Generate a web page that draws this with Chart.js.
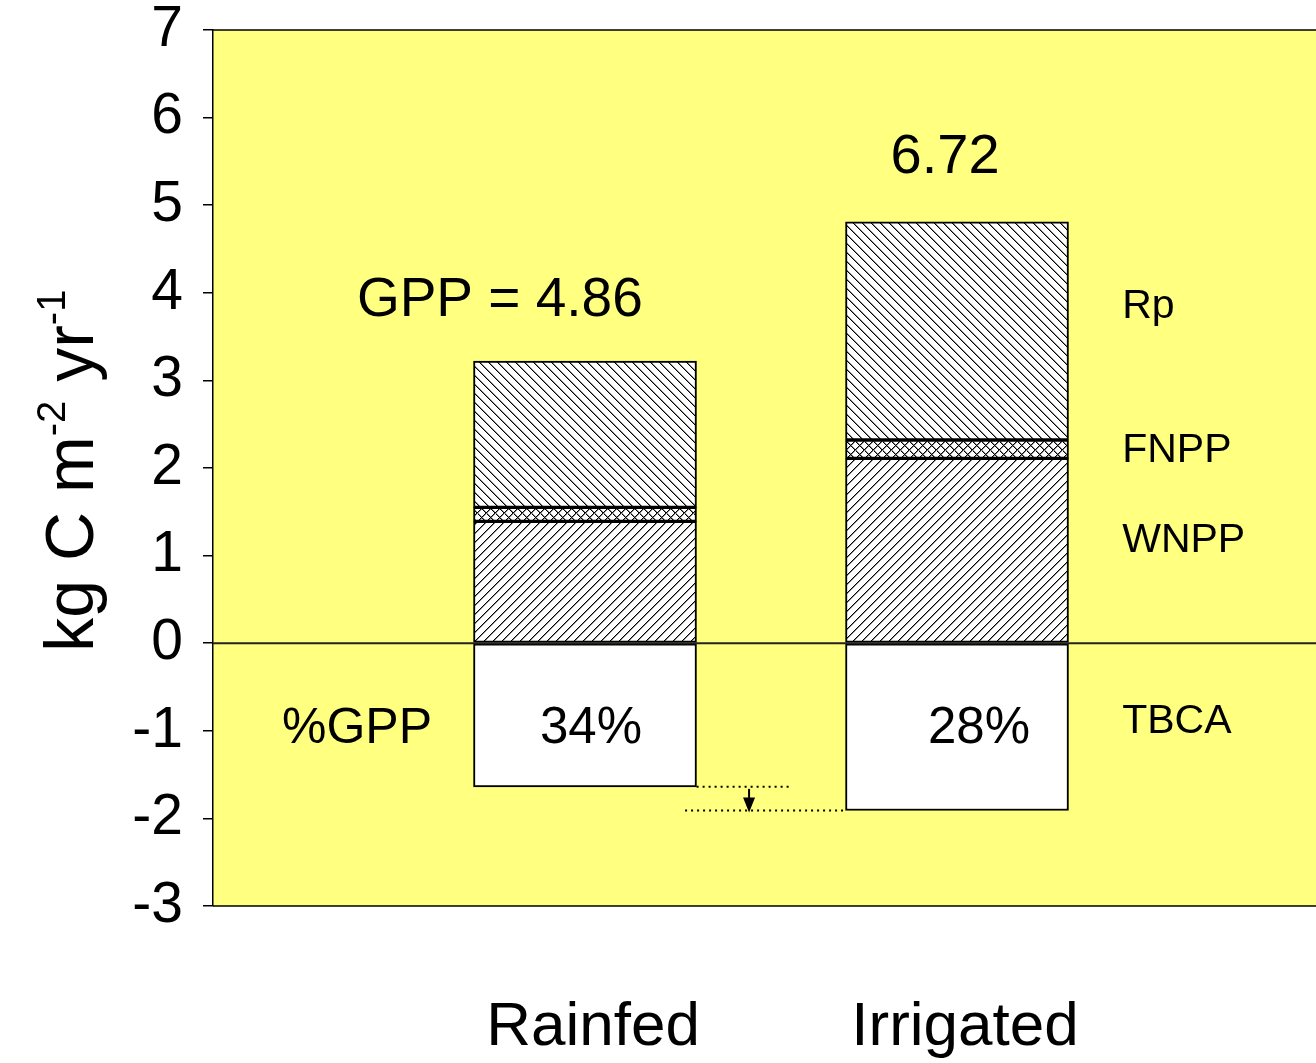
<!DOCTYPE html>
<html>
<head>
<meta charset="utf-8">
<script src="https://cdn.jsdelivr.net/npm/chart.js@4/dist/chart.umd.min.js"></script>
<style>
  html, body { margin: 0; padding: 0; background: #ffffff; }
  canvas { display: block; }
</style>
</head>
<body>
<canvas id="c" width="1316" height="1063"></canvas>
<script>
// Carbon budget components (kg C m-2 yr-1) for the two treatments
const categories = ['Rainfed', 'Irrigated'];
const categoryX = [1, 2];
const wnpp = [1.39, 2.11];   // wood NPP
const fnpp = [0.16, 0.21];   // foliage NPP
const rp   = [1.67, 2.49];   // plant respiration
const tbca = [-1.64, -1.91]; // total belowground carbon allocation
const yTicks = [-3, -2, -1, 0, 1, 2, 3, 4, 5, 6, 7];

// GPP is the sum of every component; TBCA share derived from it
const gpp = categories.map((_, i) => wnpp[i] + fnpp[i] + rp[i] - tbca[i]);
const tbcaShare = categories.map((_, i) => Math.round(-100 * tbca[i] / gpp[i]));

const FONT = "'Liberation Sans', Arial, Helvetica, sans-serif";
const PLOT_BG = '#ffff80';

// Crisp pixel hatch tiles: 'back' = \\\, 'fwd' = ///, 'cross' = both
function hatch(kind) {
  const s = 9;
  const c = document.createElement('canvas');
  c.width = s; c.height = s;
  const g = c.getContext('2d');
  g.fillStyle = '#ffffff';
  g.fillRect(0, 0, s, s);
  const px = (col, row, colr) => { g.fillStyle = colr; g.fillRect(((col % s) + s) % s, row, 1, 1); };
  for (let r = 0; r < s; r++) {
    if (kind === 'back' || kind === 'cross') {
      px(r + 1, r, '#8a8a8a');
      px(r, r, '#000000');
    }
    if (kind === 'fwd' || kind === 'cross') {
      px(s - r, r, '#8a8a8a');
      px(s - 1 - r, r, '#000000');
    }
  }
  return g.createPattern(c, 'repeat');
}

const pts = arr => arr.map((v, i) => ({ x: categoryX[i], y: v }));

const barStyle = {
  borderColor: '#000000',
  borderWidth: 2,
  borderSkipped: false,
  barThickness: 223
};

// Background, plot frame, zero line, annotations
const decor = {
  id: 'decor',
  beforeDraw(chart) {
    const { ctx, chartArea: a } = chart;
    ctx.save();
    ctx.fillStyle = '#ffffff';
    ctx.fillRect(0, 0, chart.width, chart.height);
    ctx.fillStyle = PLOT_BG;
    ctx.fillRect(a.left, a.top, a.right - a.left, a.bottom - a.top);
    ctx.restore();
  },
  afterDatasetsDraw(chart) {
    const { ctx, chartArea: a, scales: { x, y } } = chart;
    ctx.save();
    // frame top/bottom
    ctx.strokeStyle = '#000000';
    ctx.lineWidth = 1.5;
    ctx.beginPath();
    ctx.moveTo(a.left, a.top); ctx.lineTo(a.right, a.top);
    ctx.moveTo(a.left, a.bottom); ctx.lineTo(a.right, a.bottom);
    ctx.stroke();
    // zero line
    ctx.strokeStyle = '#222222';
    ctx.lineWidth = 2;
    const y0 = y.getPixelForValue(0);
    ctx.beginPath();
    ctx.moveTo(a.left, y0); ctx.lineTo(a.right, y0);
    ctx.stroke();

    // dotted guides at the two TBCA depths, with arrow between them
    const yr = y.getPixelForValue(tbca[0]);
    const yi = y.getPixelForValue(tbca[1]);
    ctx.strokeStyle = '#000000';
    ctx.lineWidth = 2;
    ctx.setLineDash([2, 4]);
    ctx.beginPath();
    ctx.moveTo(x.getPixelForValue(1.30), yr); ctx.lineTo(x.getPixelForValue(1.551), yr);
    ctx.moveTo(x.getPixelForValue(1.269), yi); ctx.lineTo(x.getPixelForValue(1.699), yi);
    ctx.stroke();
    ctx.setLineDash([]);
    const ax = x.getPixelForValue(1.441);
    ctx.beginPath();
    ctx.moveTo(ax, yr + 2); ctx.lineTo(ax, yi - 10);
    ctx.stroke();
    ctx.fillStyle = '#000000';
    ctx.beginPath();
    ctx.moveTo(ax - 6, yi - 13); ctx.lineTo(ax + 6, yi - 13); ctx.lineTo(ax, yi + 2);
    ctx.closePath();
    ctx.fill();

    // text annotations
    ctx.fillStyle = '#000000';
    ctx.textBaseline = 'alphabetic';
    const put = (str, xv, yv, size, align) => {
      ctx.font = size + 'px ' + FONT;
      ctx.textAlign = align;
      ctx.fillText(str, x.getPixelForValue(xv), y.getPixelForValue(yv));
    };
    put('GPP = ' + gpp[0].toFixed(2), 0.771, 3.73, 55, 'center');
    put(gpp[1].toFixed(2), 1.968, 5.37, 56, 'center');
    put('%GPP', 0.387, -1.14, 50, 'center');
    put(tbcaShare[0] + '%', 1.016, -1.14, 51, 'center');
    put(tbcaShare[1] + '%', 2.059, -1.14, 51, 'center');
    put('Rp', 2.444, 3.71, 41, 'left');
    put('FNPP', 2.444, 2.07, 41, 'left');
    put('WNPP', 2.444, 1.04, 41, 'left');
    put('TBCA', 2.444, -1.02, 41, 'left');

    // y-axis title with superscripts
    const parts = [
      { t: 'kg C m', s: 68, dy: 0 },
      { t: '-2', s: 40, dy: -28 },
      { t: ' yr', s: 68, dy: 0 },
      { t: '-1', s: 40, dy: -28 }
    ];
    let total = 0;
    parts.forEach(p => { ctx.font = p.s + 'px ' + FONT; p.w = ctx.measureText(p.t).width; total += p.w; });
    ctx.translate(a.left - 120, y.getPixelForValue(1.97));
    ctx.rotate(-Math.PI / 2);
    ctx.textAlign = 'left';
    let cx = -total / 2;
    parts.forEach(p => {
      ctx.font = p.s + 'px ' + FONT;
      ctx.fillText(p.t, cx, p.dy);
      cx += p.w;
    });
    ctx.restore();
  }
};

new Chart(document.getElementById('c'), {
  type: 'bar',
  data: {
    datasets: [
      { label: 'WNPP', data: pts(wnpp), backgroundColor: hatch('fwd'), ...barStyle },
      { label: 'FNPP', data: pts(fnpp), backgroundColor: hatch('cross'), ...barStyle },
      { label: 'Rp', data: pts(rp), backgroundColor: hatch('back'), ...barStyle },
      { label: 'TBCA', data: pts(tbca), backgroundColor: '#ffffff', ...barStyle }
    ]
  },
  options: {
    responsive: false,
    animation: false,
    events: [],
    layout: { padding: { top: 30, right: 0, left: 0, bottom: 0 } },
    plugins: { legend: { display: false }, tooltip: { enabled: false } },
    scales: {
      x: {
        type: 'linear',
        min: 0,
        max: 2.965,
        offset: false,
        stacked: true,
        grid: { display: false, drawTicks: false, offset: false },
        border: { display: false },
        afterBuildTicks: s => { s.ticks = categoryX.map(v => ({ value: v })); },
        afterFit: s => { s.height = 157; s.paddingLeft = 0; s.paddingRight = 0; },
        ticks: {
          color: '#000000',
          font: { family: FONT, size: 62 },
          padding: 85,
          labelOffset: 8,
          maxRotation: 0,
          autoSkip: false,
          callback: v => categories[categoryX.indexOf(v)]
        }
      },
      y: {
        min: -3,
        max: 7,
        stacked: true,
        afterBuildTicks: s => { s.ticks = yTicks.map(v => ({ value: v })); },
        afterFit: s => { s.width = 213; s.paddingTop = 0; s.paddingBottom = 0; },
        grid: { drawOnChartArea: false, drawTicks: true, tickLength: 10, color: '#000000', lineWidth: 1.5 },
        border: { display: true, color: '#000000', width: 1.5 },
        ticks: {
          color: '#000000',
          font: { family: FONT, size: 57 },
          padding: 20
        }
      }
    }
  },
  plugins: [decor]
});
</script>
</body>
</html>
